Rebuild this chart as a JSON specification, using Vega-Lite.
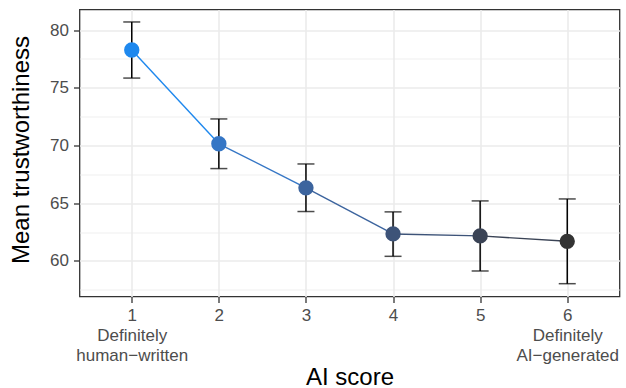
{
  "$schema": "https://vega.github.io/schema/vega-lite/v6.json",
  "width": 540,
  "height": 287,
  "autosize": {"type": "none"},
  "padding": {"left": 79.5, "top": 9.5, "right": 6.5, "bottom": 91.5},
  "background": "white",
  "config": {
    "view": {"stroke": "#333333", "strokeWidth": 1.3},
    "axis": {
      "labelFont": "Liberation Sans",
      "titleFont": "Liberation Sans",
      "labelColor": "#4D4D4D",
      "labelFontSize": 17,
      "titleFontSize": 24,
      "titleFontWeight": "normal",
      "titleColor": "#000000",
      "tickColor": "#333333",
      "tickSize": 6,
      "tickWidth": 1.3,
      "domain": false,
      "gridColor": "#EBEBEB",
      "gridWidth": 1.6,
      "labelPadding": 5
    }
  },
  "data": {
    "values": [
      {"score": 1, "mean": 78.27, "lo": 75.84, "hi": 80.7},
      {"score": 2, "mean": 70.15, "lo": 68.0, "hi": 72.3},
      {"score": 3, "mean": 66.33, "lo": 64.28, "hi": 68.4},
      {"score": 4, "mean": 62.34, "lo": 60.4, "hi": 64.25},
      {"score": 5, "mean": 62.17, "lo": 59.13, "hi": 65.2},
      {"score": 6, "mean": 61.7, "lo": 58.03, "hi": 65.37}
    ]
  },
  "resolve": {"axis": {"y": "independent"}},
  "layer": [
    {
      "mark": {"type": "rule", "color": "black", "strokeWidth": 1.5},
      "encoding": {
        "x": {
          "field": "score",
          "type": "quantitative",
          "scale": {"domain": [0.4, 6.6], "nice": false, "zero": false},
          "axis": {
            "title": "AI score",
            "values": [1, 2, 3, 4, 5, 6],
            "format": "d",
            "grid": true,
            "labelExpr": "datum.value == 1 ? ['1', 'Definitely', 'human−written'] : datum.value == 6 ? ['6', 'Definitely', 'AI−generated'] : datum.label",
            "labelLineHeight": 20,
            "titleBaseline": "alphabetic",
            "titleY": 88
          }
        },
        "y": {
          "field": "lo",
          "type": "quantitative",
          "scale": {"domain": [56.92, 81.78], "nice": false, "zero": false},
          "axis": {
            "title": "Mean trustworthiness",
            "values": [60, 65, 70, 75, 80],
            "grid": true,
            "titleBaseline": "alphabetic",
            "titleX": -51.5,
            "titleY": 140
          }
        },
        "y2": {"field": "hi"}
      }
    },
    {
      "mark": {"type": "point", "opacity": 0},
      "encoding": {
        "x": {"field": "score", "type": "quantitative"},
        "y": {
          "field": "mean",
          "type": "quantitative",
          "axis": {
            "orient": "right",
            "values": [57.5, 62.5, 67.5, 72.5, 77.5],
            "grid": true,
            "gridWidth": 0.8,
            "labels": false,
            "ticks": false,
            "domain": false,
            "title": null
          }
        }
      }
    },
    {
      "mark": {"type": "tick", "orient": "horizontal", "color": "black", "size": 17, "thickness": 1.5},
      "encoding": {
        "x": {"field": "score", "type": "quantitative"},
        "y": {"field": "lo", "type": "quantitative", "axis": null}
      }
    },
    {
      "mark": {"type": "tick", "orient": "horizontal", "color": "black", "size": 17, "thickness": 1.5},
      "encoding": {
        "x": {"field": "score", "type": "quantitative"},
        "y": {"field": "hi", "type": "quantitative", "axis": null}
      }
    },
    {
      "transform": [
        {"window": [{"op": "lead", "field": "score", "as": "score2"}, {"op": "lead", "field": "mean", "as": "mean2"}], "sort": [{"field": "score"}]},
        {"filter": "datum.score2 != null"}
      ],
      "mark": {"type": "rule", "strokeWidth": 1.4},
      "encoding": {
        "x": {"field": "score", "type": "quantitative"},
        "y": {"field": "mean", "type": "quantitative", "axis": null},
        "x2": {"field": "score2"},
        "y2": {"field": "mean2"},
        "color": {
          "field": "score",
          "type": "quantitative",
          "scale": {"domain": [1, 6], "range": ["#1E88EE", "#333333"], "interpolate": "lab"},
          "legend": null
        }
      }
    },
    {
      "mark": {"type": "circle", "size": 235, "opacity": 1},
      "encoding": {
        "x": {"field": "score", "type": "quantitative"},
        "y": {"field": "mean", "type": "quantitative", "axis": null},
        "color": {"field": "score", "type": "quantitative", "legend": null}
      }
    }
  ]
}
